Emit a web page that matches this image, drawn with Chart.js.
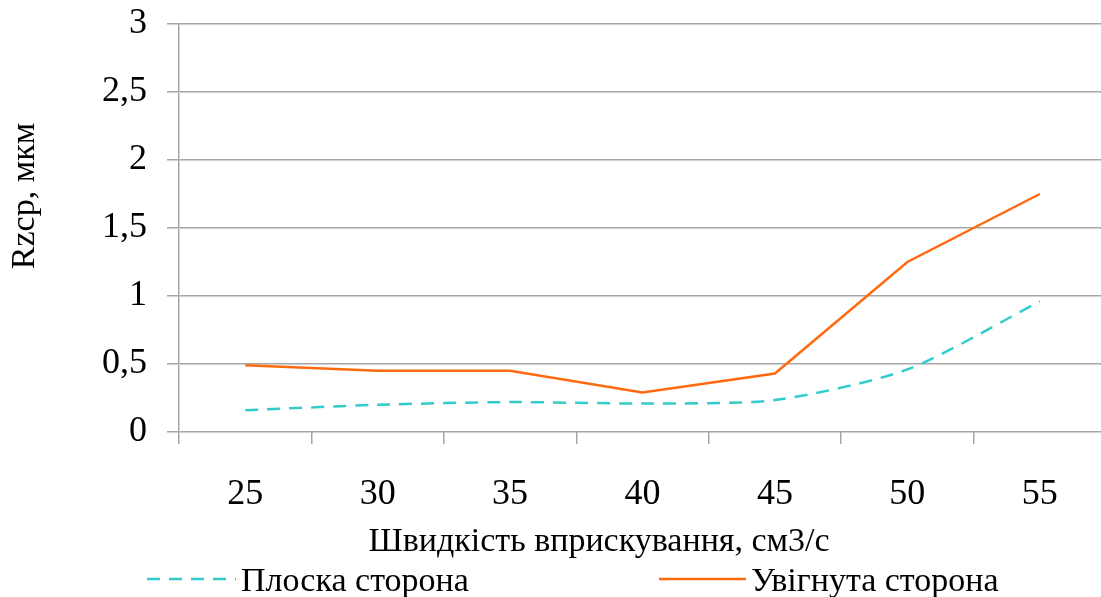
<!DOCTYPE html>
<html>
<head>
<meta charset="utf-8">
<script src="https://cdn.jsdelivr.net/npm/chart.js@4"></script>
<style>
html,body{margin:0;padding:0;background:#fff;overflow:hidden;}
#wrap{width:1101px;height:597px;position:relative;overflow:hidden;}
canvas{display:block;}
</style>
</head>
<body>
<div id="wrap"><canvas id="c" width="1106" height="597"></canvas></div>
<script>
const categories = ['25','30','35','40','45','50','55'];
const flatSide = [0.16, 0.20, 0.22, 0.21, 0.235, 0.46, 0.96];
const concaveSide = [0.49, 0.45, 0.45, 0.29, 0.43, 1.25, 1.75];
const seriesNames = ['Плоска сторона', 'Увігнута сторона'];
const xTitle = 'Швидкість вприскування, см3/с';
const yTitle = 'Rzcp, мкм';

const FONT = "'Liberation Serif', 'Times New Roman', serif";
const CYAN = '#33CCCC';
const ORANGE = '#FF6A10';
const GRID = '#A6A6A6';

const customText = {
  id: 'customText',
  afterDraw(chart) {
    const ctx = chart.ctx;
    ctx.save();
    ctx.fillStyle = '#000';
    ctx.font = '34px ' + FONT;
    // y title
    ctx.save();
    ctx.translate(34, 196);
    ctx.rotate(-Math.PI / 2);
    ctx.textAlign = 'center';
    ctx.textBaseline = 'alphabetic';
    ctx.fillText(yTitle, 0, 0);
    ctx.restore();
    // x title
    ctx.textAlign = 'center';
    ctx.textBaseline = 'alphabetic';
    ctx.fillText(xTitle, 599, 551);
    // legend
    const items = [
      {x0: 147, x1: 236, tx: 241, ds: chart.data.datasets[0]},
      {x0: 659, x1: 746, tx: 751, ds: chart.data.datasets[1]}
    ];
    items.forEach(it => {
      ctx.save();
      ctx.strokeStyle = it.ds.borderColor;
      ctx.lineWidth = it.ds.borderWidth;
      ctx.setLineDash(it.ds.borderDash || []);
      ctx.beginPath();
      ctx.moveTo(it.x0, 579);
      ctx.lineTo(it.x1, 579);
      ctx.stroke();
      ctx.restore();
      ctx.textAlign = 'left';
      ctx.fillText(it.ds.label, it.tx, 591);
    });
    ctx.restore();
  }
};

new Chart(document.getElementById('c'), {
  type: 'line',
  data: {
    labels: categories,
    datasets: [
      {
        label: seriesNames[0],
        data: flatSide,
        borderColor: CYAN,
        backgroundColor: CYAN,
        borderWidth: 2.5,
        borderDash: [13, 9],
        tension: 0.25,
        pointRadius: 0,
        fill: false
      },
      {
        label: seriesNames[1],
        data: concaveSide,
        borderColor: ORANGE,
        backgroundColor: ORANGE,
        borderWidth: 2.5,
        tension: 0,
        pointRadius: 0,
        fill: false
      }
    ]
  },
  options: {
    responsive: false,
    animation: false,
    events: [],
    layout: { padding: { top: 24, right: 0, bottom: 0, left: 0 } },
    plugins: {
      legend: { display: false },
      tooltip: { enabled: false },
      title: { display: false }
    },
    scales: {
      x: {
        type: 'category',
        offset: true,
        grid: {
          offset: true,
          drawOnChartArea: false,
          drawTicks: true,
          tickLength: 12,
          color: GRID,
          lineWidth: 1.5
        },
        border: { display: false },
        ticks: {
          color: '#000',
          font: { family: FONT, size: 36 },
          padding: 29,
          maxRotation: 0,
          autoSkip: false
        },
        afterFit(s) { s.height = 165; }
      },
      y: {
        min: 0,
        max: 3,
        grid: {
          color: GRID,
          lineWidth: 1.5,
          tickLength: 12
        },
        border: { display: true, color: GRID, width: 1.5 },
        ticks: {
          stepSize: 0.5,
          color: '#000',
          padding: 20,
          font: { family: FONT, size: 36, lineHeight: 0.05 },
          callback: v => String(v).replace('.', ',')
        },
        afterFit(s) { s.width = 179; }
      }
    }
  },
  plugins: [customText]
});
</script>
</body>
</html>
